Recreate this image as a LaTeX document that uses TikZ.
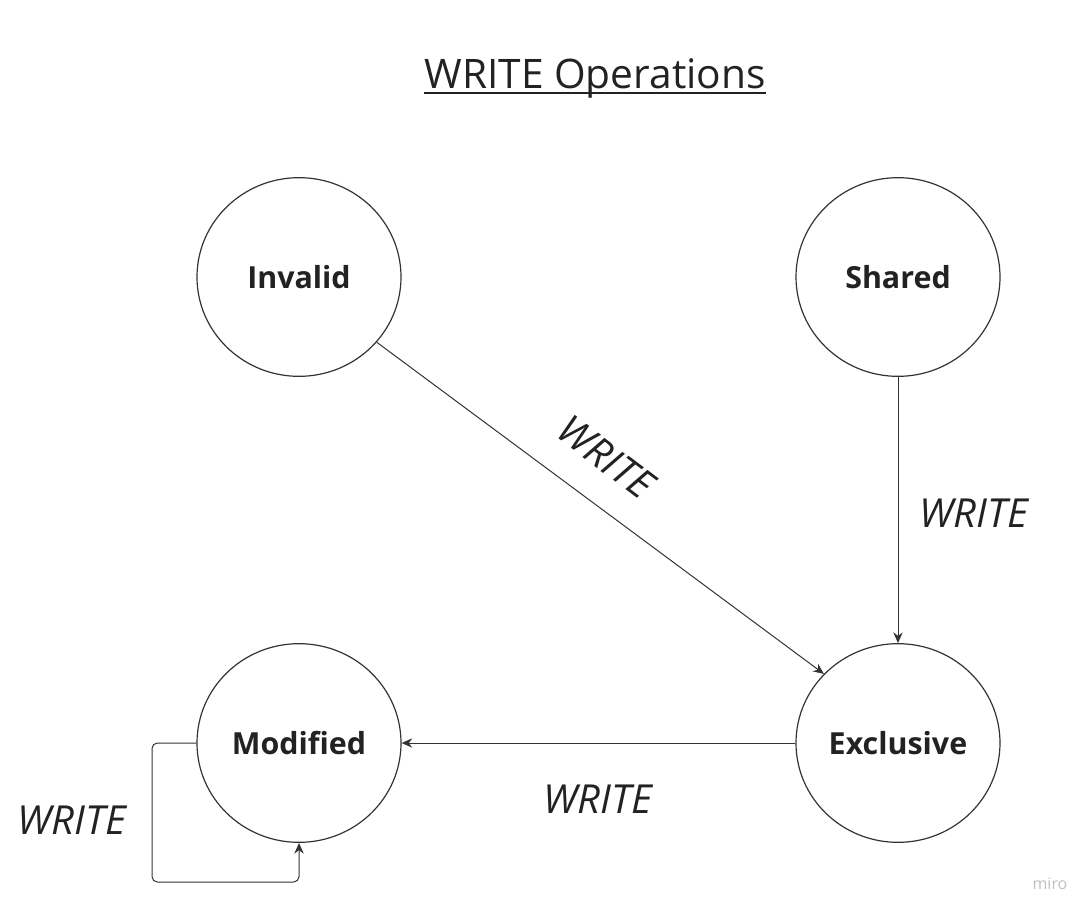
\documentclass[tikz,border=0pt]{standalone}
\usepackage{fontspec}
\setmainfont{Open Sans}
\usetikzlibrary{shapes.geometric,arrows.meta}
\definecolor{ink}{HTML}{222222}
\definecolor{edge}{HTML}{333333}
\tikzset{
  state/.style={ellipse,draw=edge,line width=0.9pt,minimum width=153pt,minimum height=149pt,inner sep=0pt,font=\fontsize{22.8}{27}\selectfont\bfseries,text=ink},
  conn/.style={draw=edge,line width=0.75pt,-{Stealth[length=8pt,width=7pt]}},
  lbl/.style={font=\fontsize{30}{35}\selectfont\itshape,text=ink,inner sep=0pt}
}
\begin{document}
\begin{tikzpicture}[x=0.75pt,y=-0.75pt]
\useasboundingbox (0,0) rectangle (1092,915);
\node[font=\fontsize{30.5}{36}\selectfont,text=ink,inner sep=0pt,anchor=base] (title) at (595,88) {WRITE Operations};
\draw[ink,line width=1.5pt] ([yshift=-3.9pt]title.base west) -- ([yshift=-3.9pt]title.base east);
\node[state] (inv) at (299,277) {Invalid};
\node[state] (sh) at (898,277) {Shared};
\node[state] (mod) at (299,743) {Modified};
\node[state] (ex) at (898,743) {Exclusive};
\draw[conn] (inv.-40) -- (ex.137);
\draw[conn] (sh.south) -- (ex.north);
\draw[conn] (ex.west) -- (mod.east);
\coordinate (lp) at (152,882);
\draw[conn,rounded corners=4pt] (mod.west) -| (lp) -| (mod.south);
\node[lbl,rotate=-37] (l1) at (606,457) {WRITE};
\node[lbl] (l2) at (974,513) {WRITE};
\node[lbl] (l3) at (598,799) {WRITE};
\node[lbl] (l4) at (72,820) {WRITE};
\node[font=\fontsize{12}{14}\selectfont,text=black!25,inner sep=0pt] (miro) at (1050,884) {miro};
\end{tikzpicture}
\end{document}
